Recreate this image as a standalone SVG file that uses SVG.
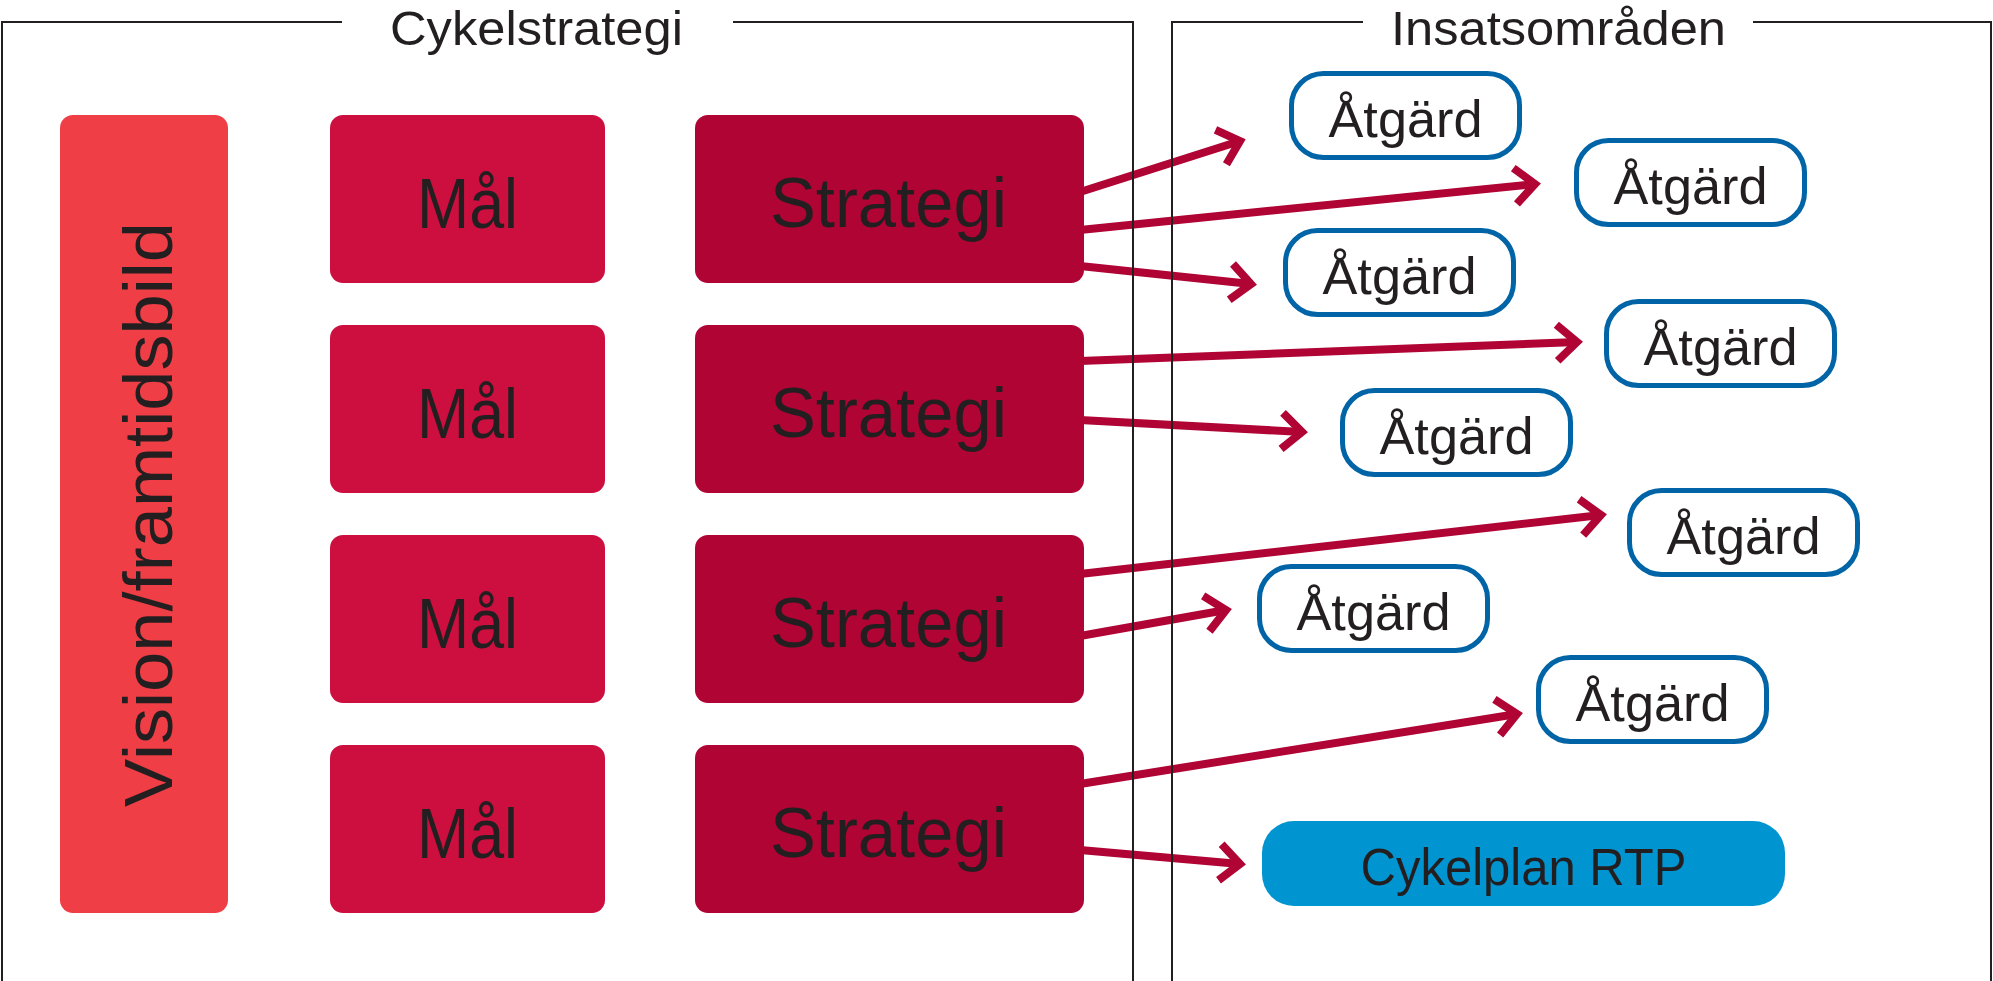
<svg xmlns="http://www.w3.org/2000/svg" width="1993" height="981" viewBox="0 0 1993 981">
<style>
  text { font-family: "Liberation Sans", Arial, sans-serif; fill: #231F20; }
  .title { font-size: 49px; text-anchor: middle; }
  .big { font-size: 70px; text-anchor: middle; }
  .act { font-size: 52px; text-anchor: middle; }
  .vision { fill: #EF3E45; }
  .mal { fill: #CC0F3F; }
  .strat { fill: #B00435; }
  .atg { fill: #FFFFFF; stroke: #0064A6; stroke-width: 5; }
  .rtp { fill: #0094D0; }
  .frame { fill: none; stroke: #231F20; stroke-width: 2; }
  .conn { fill: none; stroke: #B00435; stroke-width: 8; marker-end: url(#chev); }
</style>
<defs>
  <marker id="chev" markerUnits="userSpaceOnUse" viewBox="-30 -25 40 50" refX="0" refY="0" markerWidth="40" markerHeight="50" orient="auto">
    <path d="M-20,-18 L0,0 L-20,18" fill="none" stroke="#B00435" stroke-width="8" stroke-linejoin="miter"/>
  </marker>
</defs>
<rect width="1993" height="981" fill="#FFFFFF"/>

<g id="connectors">
  <line class="conn" x1="1080" y1="192" x2="1240" y2="141"/>
  <line class="conn" x1="1080" y1="230" x2="1535" y2="184"/>
  <line class="conn" x1="1080" y1="266" x2="1251" y2="284"/>
  <line class="conn" x1="1080" y1="361" x2="1577" y2="342"/>
  <line class="conn" x1="1080" y1="420" x2="1302" y2="432"/>
  <line class="conn" x1="1080" y1="574" x2="1601" y2="515"/>
  <line class="conn" x1="1080" y1="636" x2="1226" y2="610"/>
  <line class="conn" x1="1080" y1="784" x2="1517" y2="714"/>
  <line class="conn" x1="1080" y1="850" x2="1240" y2="864"/>
</g>

<g id="frames">
  <path class="frame" d="M342,22 H2 V981 M733,22 H1133 V981"/>
  <path class="frame" d="M1363,22 H1172 V981 M1753,22 H1991 V981"/>
  <text class="title" x="536.5" y="45" textLength="293" lengthAdjust="spacingAndGlyphs">Cykelstrategi</text>
  <text class="title" x="1558.5" y="45" textLength="335" lengthAdjust="spacingAndGlyphs">Insatsområden</text>
</g>

<g id="vision">
  <rect class="vision" x="60" y="115" width="168" height="798" rx="13"/>
  <text transform="translate(172,514.5) rotate(-90)" x="0" y="0" style="font-size:68px;text-anchor:middle" textLength="585" lengthAdjust="spacingAndGlyphs">Vision/framtidsbild</text>
</g>

<g id="mal1"><rect class="mal" x="330" y="115" width="275" height="168" rx="13"/><text class="big" x="467.5" y="228" textLength="101" lengthAdjust="spacingAndGlyphs">Mål</text></g>
<g id="mal2"><rect class="mal" x="330" y="325" width="275" height="168" rx="13"/><text class="big" x="467.5" y="438" textLength="101" lengthAdjust="spacingAndGlyphs">Mål</text></g>
<g id="mal3"><rect class="mal" x="330" y="535" width="275" height="168" rx="13"/><text class="big" x="467.5" y="648" textLength="101" lengthAdjust="spacingAndGlyphs">Mål</text></g>
<g id="mal4"><rect class="mal" x="330" y="745" width="275" height="168" rx="13"/><text class="big" x="467.5" y="858" textLength="101" lengthAdjust="spacingAndGlyphs">Mål</text></g>

<g id="strategi1"><rect class="strat" x="695" y="115" width="389" height="168" rx="13"/><text class="big" x="888.5" y="227" textLength="237" lengthAdjust="spacingAndGlyphs">Strategi</text></g>
<g id="strategi2"><rect class="strat" x="695" y="325" width="389" height="168" rx="13"/><text class="big" x="888.5" y="437" textLength="237" lengthAdjust="spacingAndGlyphs">Strategi</text></g>
<g id="strategi3"><rect class="strat" x="695" y="535" width="389" height="168" rx="13"/><text class="big" x="888.5" y="647" textLength="237" lengthAdjust="spacingAndGlyphs">Strategi</text></g>
<g id="strategi4"><rect class="strat" x="695" y="745" width="389" height="168" rx="13"/><text class="big" x="888.5" y="857" textLength="237" lengthAdjust="spacingAndGlyphs">Strategi</text></g>

<g id="atgard1"><rect class="atg" x="1291.5" y="73.5" width="228" height="84" rx="32"/><text class="act" x="1405.5" y="137" textLength="154" lengthAdjust="spacingAndGlyphs">Åtgärd</text></g>
<g id="atgard2"><rect class="atg" x="1576.5" y="140.5" width="228" height="84" rx="32"/><text class="act" x="1690.5" y="204" textLength="154" lengthAdjust="spacingAndGlyphs">Åtgärd</text></g>
<g id="atgard3"><rect class="atg" x="1285.5" y="230.5" width="228" height="84" rx="32"/><text class="act" x="1399.5" y="294" textLength="154" lengthAdjust="spacingAndGlyphs">Åtgärd</text></g>
<g id="atgard4"><rect class="atg" x="1606.5" y="301.5" width="228" height="84" rx="32"/><text class="act" x="1720.5" y="365" textLength="154" lengthAdjust="spacingAndGlyphs">Åtgärd</text></g>
<g id="atgard5"><rect class="atg" x="1342.5" y="390.5" width="228" height="84" rx="32"/><text class="act" x="1456.5" y="454" textLength="154" lengthAdjust="spacingAndGlyphs">Åtgärd</text></g>
<g id="atgard6"><rect class="atg" x="1629.5" y="490.5" width="228" height="84" rx="32"/><text class="act" x="1743.5" y="554" textLength="154" lengthAdjust="spacingAndGlyphs">Åtgärd</text></g>
<g id="atgard7"><rect class="atg" x="1259.5" y="566.5" width="228" height="84" rx="32"/><text class="act" x="1373.5" y="630" textLength="154" lengthAdjust="spacingAndGlyphs">Åtgärd</text></g>
<g id="atgard8"><rect class="atg" x="1538.5" y="657.5" width="228" height="84" rx="32"/><text class="act" x="1652.5" y="721" textLength="154" lengthAdjust="spacingAndGlyphs">Åtgärd</text></g>

<g id="cykelplan"><rect class="rtp" x="1262" y="821" width="523" height="85" rx="32"/><text class="act" x="1523.5" y="885" textLength="326" lengthAdjust="spacingAndGlyphs">Cykelplan RTP</text></g>
</svg>
